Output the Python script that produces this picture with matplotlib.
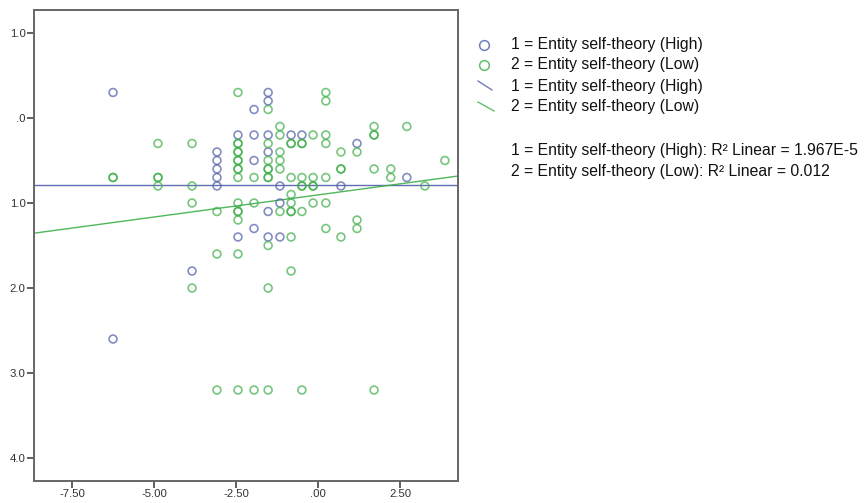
import matplotlib
matplotlib.use("Agg")
import matplotlib.pyplot as plt
from matplotlib.lines import Line2D
import numpy as np

plt.rcParams['font.family'] = ['Liberation Sans', 'DejaVu Sans']

# ---- data ----
high_x = [-6.25, -6.25, -3.84, -3.08, -3.08, -3.08, -3.08, -3.08,
          -2.44, -2.44, -1.95, -1.95, -1.95, -1.95,
          -1.52, -1.52, -1.52, -1.52, -1.52, -1.52,
          -1.16, -1.16, -1.16, -0.82, -0.49, 0.70, 1.19, 2.71]
high_y = [0.3, -2.6, -1.8, -0.4, -0.5, -0.6, -0.7, -0.8,
          -0.2, -1.4, 0.1, -0.2, -0.5, -1.3,
          0.3, 0.2, -0.2, -0.4, -1.1, -1.4,
          -0.8, -1.0, -1.4, -0.2, -0.2, -0.8, -0.3, -0.7]

low_x = [-6.25, -6.25,
         -4.88, -4.88, -4.88, -4.88,
         -3.84, -3.84, -3.84, -3.84,
         -3.08, -3.08, -3.08,
         -2.44, -2.44, -2.44, -2.44, -2.44, -2.44, -2.44, -2.44, -2.44, -2.44, -2.44, -2.44,
         -2.44, -2.44, -2.44, -2.44,
         -1.95, -1.95, -1.95,
         -1.52, -1.52, -1.52, -1.52, -1.52, -1.52, -1.52, -1.52, -1.52, -1.52,
         -1.16, -1.16, -1.16, -1.16, -1.16, -1.16,
         -0.82, -0.82, -0.82, -0.82, -0.82, -0.82, -0.82, -0.82, -0.82,
         -0.49, -0.49, -0.49, -0.49, -0.49, -0.49, -0.49,
         -0.15, -0.15, -0.15, -0.15, -0.15,
         0.24, 0.24, 0.24, 0.24, 0.24, 0.24, 0.24,
         0.70, 0.70, 0.70, 0.70,
         1.19, 1.19, 1.19,
         1.71, 1.71, 1.71, 1.71, 1.71,
         2.22, 2.22, 2.71, 3.26, 3.87]
low_y = [-0.7, -0.7,
         -0.3, -0.7, -0.7, -0.8,
         -0.3, -0.8, -1.0, -2.0,
         -1.1, -1.6, -3.2,
         0.3, -0.3, -0.4, -0.5, -0.6, -0.7, -1.0, -1.1, -1.2, -1.6, -3.2, -0.4,
         -0.5, -0.6, -1.1, -0.3,
         -0.7, -1.0, -3.2,
         0.1, -0.3, -0.5, -0.6, -0.7, -1.5, -2.0, -3.2, -0.6, -0.7,
         -0.1, -0.2, -0.4, -0.5, -0.6, -1.1,
         -0.3, -0.7, -0.9, -1.0, -1.1, -1.4, -1.8, -0.3, -1.1,
         -0.3, -0.7, -0.8, -1.1, -3.2, -0.3, -0.8,
         -0.2, -0.7, -0.8, -1.0, -0.8,
         0.3, 0.2, -0.2, -0.3, -0.7, -1.0, -1.3,
         -0.4, -0.6, -1.4, -0.6,
         -0.4, -1.2, -1.3,
         -0.1, -0.2, -0.6, -3.2, -0.2,
         -0.6, -0.7, -0.1, -0.8, -0.5]

# fit lines: (intercept, slope)
high_fit = (-0.785, 0.0)
low_fit = (-0.905, 0.052)

x_ticks = [-7.5, -5.0, -2.5, 0.0, 2.5]
x_tick_labels = ["-7.50", "-5.00", "-2.50", ".00", "2.50"]
y_ticks = [1.0, 0.0, -1.0, -2.0, -3.0, -4.0]
y_tick_labels = ["1.0", ".0", "1.0", "2.0", "3.0", "4.0"]

legend_labels = ["1 = Entity self-theory (High)", "2 = Entity self-theory (Low)",
                 "1 = Entity self-theory (High)", "2 = Entity self-theory (Low)"]
r2_labels = ["1 = Entity self-theory (High): R\u00b2 Linear = 1.967E-5",
             "2 = Entity self-theory (Low): R\u00b2 Linear = 0.012"]

blue = "#4f5da8"
green = "#3cae48"

W, H = 865, 503
fig = plt.figure(figsize=(W / 100, H / 100), dpi=100)
ax = fig.add_axes([34 / W, (H - 481) / H, 424 / W, 471 / H])

xlim = (-8.66, 4.27)
ylim = (-4.27, 1.27)
ax.set_xlim(*xlim)
ax.set_ylim(*ylim)

ax.scatter(high_x, high_y, s=32, facecolors='none', edgecolors=blue,
           linewidths=1.2, alpha=0.7, zorder=3)
ax.scatter(low_x, low_y, s=32, facecolors='none', edgecolors=green,
           linewidths=1.2, alpha=0.7, zorder=3)

xs = np.array(xlim)
ax.plot(xs, high_fit[0] + high_fit[1] * xs, color=blue, lw=1.0, alpha=0.9, zorder=2)
ax.plot(xs, low_fit[0] + low_fit[1] * xs, color=green, lw=1.0, alpha=0.9, zorder=2)

ax.set_xticks(x_ticks)
ax.set_xticklabels(x_tick_labels)
ax.set_yticks(y_ticks)
ax.set_yticklabels(y_tick_labels)
ax.tick_params(axis='both', direction='out', length=5, width=1.2, color='#444444',
               labelsize=8.2, labelcolor='#333333', pad=1)
for side in ['top', 'right', 'bottom', 'left']:
    ax.spines[side].set_color('#666666')
    ax.spines[side].set_linewidth(1.4)

# legend (figure coordinates in pixels)
def fx(px):
    return px / W

def fy(py):
    return 1 - py / H

row_y = [45, 65, 86, 107]
fig.add_artist(Line2D([fx(484)], [fy(row_y[0])], marker='o', markersize=7, markerfacecolor='none',
                      markeredgecolor=blue, markeredgewidth=1.1, alpha=0.8, linestyle='none'))
fig.add_artist(Line2D([fx(484)], [fy(row_y[1])], marker='o', markersize=7, markerfacecolor='none',
                      markeredgecolor=green, markeredgewidth=1.1, alpha=0.8, linestyle='none'))
fig.add_artist(Line2D([fx(478), fx(492)], [fy(row_y[2] - 5), fy(row_y[2] + 4)], color=blue, lw=1.0, alpha=0.8))
fig.add_artist(Line2D([fx(478), fx(494)], [fy(row_y[3] - 5), fy(row_y[3] + 4)], color=green, lw=1.0, alpha=0.8))

for lbl, py in zip(legend_labels, row_y):
    fig.text(fx(511), fy(py), lbl, fontsize=11.3, va='center', ha='left', color='#111111')
for lbl, py in zip(r2_labels, [151, 172]):
    fig.text(fx(511), fy(py), lbl, fontsize=11.3, va='center', ha='left', color='#111111')

fig.savefig("out.png", dpi=100)
